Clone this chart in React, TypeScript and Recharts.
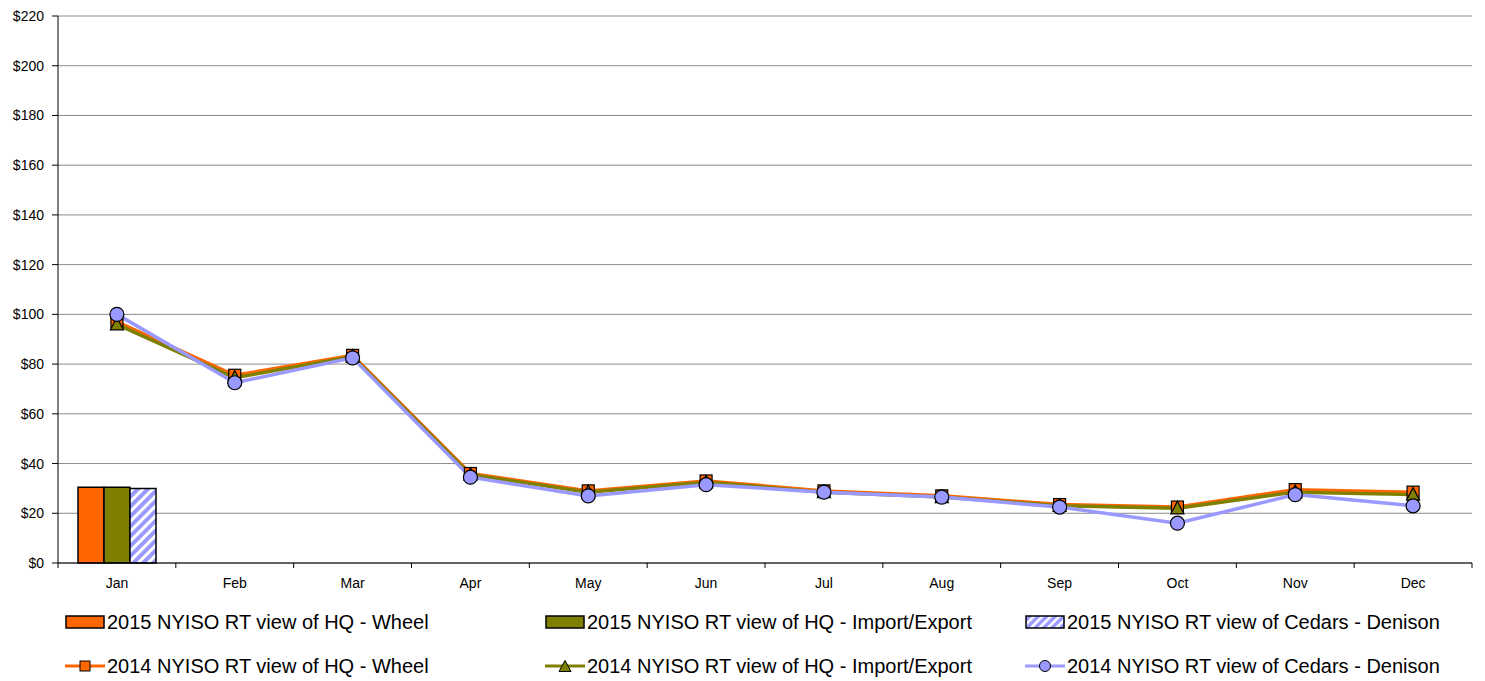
import React from "react";
import { ComposedChart, Bar, Line, XAxis, YAxis, CartesianGrid, Legend } from "recharts";

const ORANGE = "#FF6600";
const OLIVE = "#808000";
const LAVENDER = "#9999FF";

const months = ["Jan", "Feb", "Mar", "Apr", "May", "Jun", "Jul", "Aug", "Sep", "Oct", "Nov", "Dec"];
const yTicks = [0, 20, 40, 60, 80, 100, 120, 140, 160, 180, 200, 220];

// 2015 bars (only January so far)
const wheel2015 = [30.5, null, null, null, null, null, null, null, null, null, null, null];
const importExport2015 = [30.5, null, null, null, null, null, null, null, null, null, null, null];
const cedars2015 = [30, null, null, null, null, null, null, null, null, null, null, null];

// 2014 lines
const wheel2014 = [97, 75.5, 83.5, 36, 29, 33, 29, 27, 23.5, 22.5, 29.5, 28.5];
const importExport2014 = [96, 74.5, 83, 35.5, 28.5, 32.5, 28.5, 26.5, 23, 22, 28.5, 27.5];
const cedars2014 = [100, 72.5, 82.5, 34.5, 27, 31.5, 28.5, 26.5, 22.5, 16, 27.5, 23];

const data = months.map((m, i) => ({
  month: m,
  w15: wheel2015[i],
  ie15: importExport2015[i],
  cd15: cedars2015[i],
  w14: wheel2014[i],
  ie14: importExport2014[i],
  cd14: cedars2014[i],
}));

const FONT = "'Liberation Sans', Arial, sans-serif";
const BAND = 1414 / 12;

const XTick = (props: any) => {
  const { x, y, payload, index } = props;
  return (
    <g>
      <line x1={x - BAND / 2} x2={x - BAND / 2} y1={y} y2={y + 5} stroke="#000" />
      {index === months.length - 1 && (
        <line x1={x + BAND / 2} x2={x + BAND / 2} y1={y} y2={y + 5} stroke="#000" />
      )}
      <text x={x} y={y + 25} textAnchor="middle" fontSize={14} fontFamily={FONT} fill="#000">
        {payload.value}
      </text>
    </g>
  );
};

const SquareDot = (p: any) => {
  if (p.cx == null || p.cy == null) return null;
  return <rect key={p.key} x={p.cx - 6} y={p.cy - 6} width={12} height={12} fill={ORANGE} stroke="#000" strokeWidth={1.2} />;
};

const TriangleDot = (p: any) => {
  if (p.cx == null || p.cy == null) return null;
  const { cx, cy } = p;
  return (
    <polygon
      key={p.key}
      points={`${cx},${cy - 7} ${cx + 6.5},${cy + 5.5} ${cx - 6.5},${cy + 5.5}`}
      fill={OLIVE}
      stroke="#000"
      strokeWidth={1.2}
    />
  );
};

const CircleDot = (p: any) => {
  if (p.cx == null || p.cy == null) return null;
  return <circle key={p.key} cx={p.cx} cy={p.cy} r={7} fill={LAVENDER} stroke="#000" strokeWidth={1.2} />;
};

const legendItems = [
  { label: "2015 NYISO RT view of HQ - Wheel", kind: "bar", color: ORANGE },
  { label: "2015 NYISO RT view of HQ - Import/Export", kind: "bar", color: OLIVE },
  { label: "2015 NYISO RT view of Cedars - Denison", kind: "hatch", color: LAVENDER },
  { label: "2014 NYISO RT view of HQ - Wheel", kind: "square", color: ORANGE },
  { label: "2014 NYISO RT view of HQ - Import/Export", kind: "triangle", color: OLIVE },
  { label: "2014 NYISO RT view of Cedars - Denison", kind: "circle", color: LAVENDER },
];

const LegendIcon = ({ kind, color }: { kind: string; color: string }) => (
  <svg width={40} height={14} style={{ display: "block", flexShrink: 0 }}>
    {kind === "bar" && <rect x={1} y={1} width={38} height={12} fill={color} stroke="#000" strokeWidth={1.5} />}
    {kind === "hatch" && <rect x={1} y={1} width={38} height={12} fill="url(#hatchLegend)" stroke="#000" strokeWidth={1.5} />}
    {kind !== "bar" && kind !== "hatch" && <line x1={0} x2={40} y1={7} y2={7} stroke={color} strokeWidth={3} />}
    {kind === "square" && <rect x={15} y={2} width={10} height={10} fill={color} stroke="#000" />}
    {kind === "triangle" && <polygon points="20,1.5 26,12.5 14,12.5" fill={color} stroke="#000" />}
    {kind === "circle" && <circle cx={20} cy={7} r={5.5} fill={color} stroke="#000" />}
  </svg>
);

const renderLegend = () => (
  <div style={{ height: 88, paddingTop: 7, boxSizing: "border-box", fontFamily: FONT, fontSize: 20, color: "#000", whiteSpace: "nowrap" }}>
    <svg width={0} height={0} style={{ position: "absolute" }}>
      <defs>
        <pattern id="hatchLegend" width={6} height={6} patternUnits="userSpaceOnUse" patternTransform="rotate(45)">
          <rect width={6} height={6} fill={LAVENDER} />
          <rect width={2.5} height={6} fill="#fff" />
        </pattern>
      </defs>
    </svg>
    {[0, 1].map((row) => (
      <div key={row} style={{ display: "flex", height: 44, alignItems: "center", paddingLeft: 57 }}>
        {legendItems.slice(row * 3, row * 3 + 3).map((it) => (
          <div key={it.label} style={{ width: 480, flexShrink: 0, display: "flex", alignItems: "center" }}>
            <LegendIcon kind={it.kind} color={it.color} />
            <span style={{ marginLeft: 2 }}>{it.label}</span>
          </div>
        ))}
      </div>
    ))}
  </div>
);

export default function App() {
  return (
    <div style={{ width: 1469, height: 673, fontFamily: FONT }}>
      <ComposedChart
        width={1469}
        height={673}
        data={data}
        margin={{ top: 8, right: 5, bottom: 0, left: 0 }}
        barCategoryGap={20}
        barGap={0}
      >
        <defs>
          <pattern id="hatch" width={7} height={7} patternUnits="userSpaceOnUse" patternTransform="rotate(45)">
            <rect width={7} height={7} fill={LAVENDER} />
            <rect width={3} height={7} fill="#fff" />
          </pattern>
        </defs>
        <CartesianGrid vertical={false} stroke="#8c8c8c" strokeWidth={1} />
        <XAxis
          dataKey="month"
          height={30}
          axisLine={{ stroke: "#000" }}
          tickLine={false}
          tickSize={0}
          tickMargin={0}
          tick={<XTick />}
          interval={0}
        />
        <YAxis
          width={50}
          domain={[0, 220]}
          ticks={yTicks}
          interval={0}
          tickFormatter={(v: number) => `$${v}`}
          axisLine={{ stroke: "#000" }}
          tickLine={{ stroke: "#000" }}
          tickSize={6}
          tickMargin={8}
          tick={{ fontSize: 14, fill: "#000", fontFamily: FONT }}
        />
        <Bar dataKey="w15" fill={ORANGE} stroke="#000" strokeWidth={1.5} isAnimationActive={false} />
        <Bar dataKey="ie15" fill={OLIVE} stroke="#000" strokeWidth={1.5} isAnimationActive={false} />
        <Bar dataKey="cd15" fill="url(#hatch)" stroke="#000" strokeWidth={1.5} isAnimationActive={false} />
        <Line dataKey="w14" stroke={ORANGE} strokeWidth={3.5} dot={<SquareDot />} activeDot={false} isAnimationActive={false} />
        <Line dataKey="ie14" stroke={OLIVE} strokeWidth={3.5} dot={<TriangleDot />} activeDot={false} isAnimationActive={false} />
        <Line dataKey="cd14" stroke={LAVENDER} strokeWidth={3.5} dot={<CircleDot />} activeDot={false} isAnimationActive={false} />
        <Legend verticalAlign="bottom" content={renderLegend} />
      </ComposedChart>
    </div>
  );
}
